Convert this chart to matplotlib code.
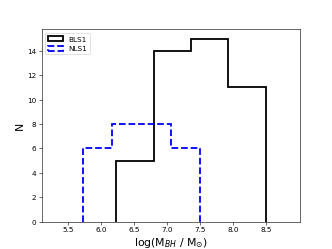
import matplotlib
matplotlib.use("Agg")
import matplotlib.pyplot as plt
import numpy as np

bls1_edges = [6.23, 6.795, 7.36, 7.925, 8.49]
bls1_counts = [5, 14, 15, 11]
nls1_edges = [5.72, 6.16, 6.605, 7.05, 7.49]
nls1_counts = [6, 8, 8, 6]

fig, ax = plt.subplots(figsize=(6.4, 4.8), dpi=52)

def centers(e):
    e = np.asarray(e)
    return (e[:-1] + e[1:]) / 2

ax.hist(centers(bls1_edges), bins=bls1_edges, weights=bls1_counts,
        histtype='step', color='black', lw=2.5, label='BLS1')
ax.hist(centers(nls1_edges), bins=nls1_edges, weights=nls1_counts,
        histtype='step', color='blue', lw=2.5, ls='--', label='NLS1')

ax.set_xlim(5.1, 9.0)
ax.set_xticks([5.5, 6.0, 6.5, 7.0, 7.5, 8.0, 8.5])
ax.set_yticks(range(0, 15, 2))
ax.set_xlabel(r'log(M$_{BH}$ / M$_{\odot}$)', fontsize=15)
ax.set_ylabel('N', fontsize=15)
ax.legend(loc='upper left')

fig.savefig('out.png', dpi=52)
